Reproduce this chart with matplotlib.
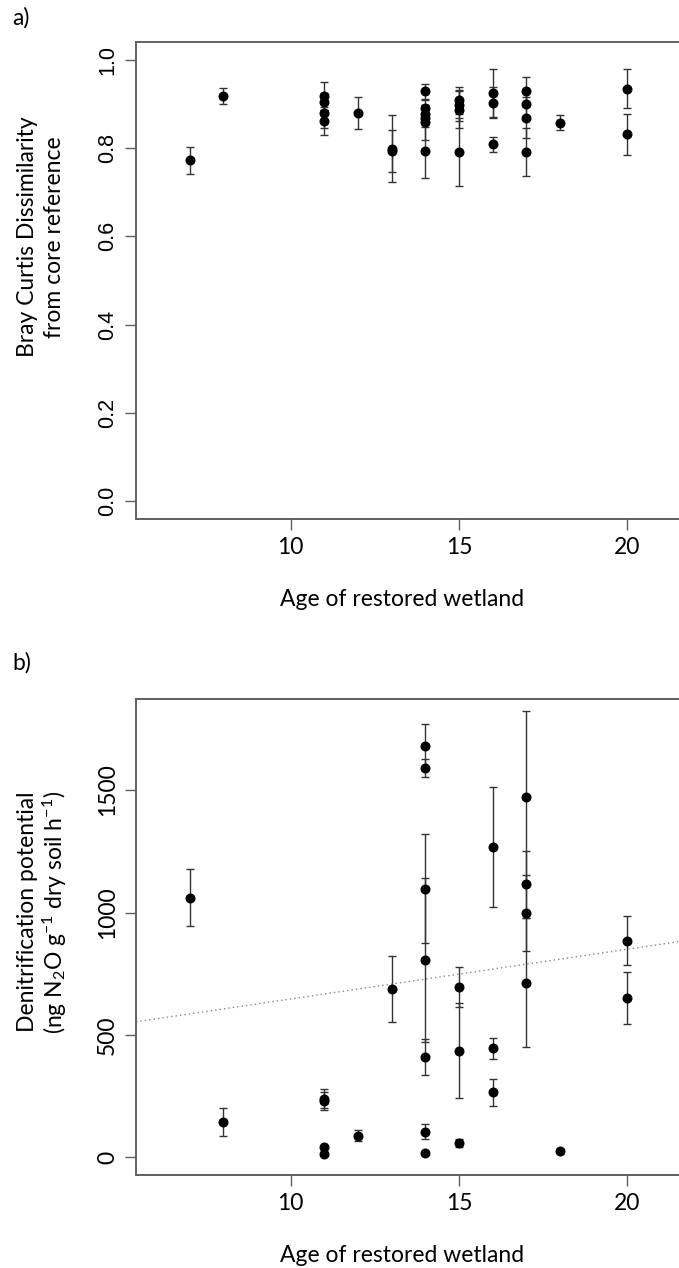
import matplotlib
matplotlib.use("Agg")
import matplotlib.pyplot as plt

# ---------------- data ----------------
# Panel a: Bray Curtis dissimilarity vs age
age_a = [7, 8, 11, 11, 11, 11, 12, 13, 13, 14, 14, 14, 14, 14, 14,
         15, 15, 15, 15, 16, 16, 16, 17, 17, 17, 17, 18, 20, 20]
bc_a = [0.772, 0.917, 0.917, 0.905, 0.880, 0.861, 0.880, 0.798, 0.793,
        0.928, 0.890, 0.878, 0.868, 0.858, 0.793,
        0.908, 0.897, 0.887, 0.791, 0.924, 0.902, 0.808,
        0.928, 0.900, 0.869, 0.791, 0.857, 0.934, 0.831]
err_a = [0.030, 0.018, 0.032, 0.020, 0.035, 0.031, 0.036, 0.076, 0.047,
         0.016, 0.018, 0.020, 0.020, 0.040, 0.060,
         0.030, 0.035, 0.042, 0.076, 0.054, 0.035, 0.018,
         0.033, 0.030, 0.047, 0.054, 0.017, 0.044, 0.047]

# Panel b: denitrification potential vs age
age_b = [7, 8, 11, 11, 11, 11, 12, 13, 14, 14, 14, 14, 14, 14, 14,
         15, 15, 15, 16, 16, 16, 17, 17, 17, 17, 18, 20, 20]
dp_b = [1061, 144, 240, 230, 43, 12, 88, 688, 1679, 1592, 1098, 808, 410,
        105, 18, 696, 436, 60, 1268, 446, 265, 1472, 1115, 999, 714, 26,
        885, 650]
err_b = [115, 56, 40, 35, 0, 0, 22, 135, 89, 37, 224, 335, 73, 32, 0,
         83, 195, 17, 246, 43, 57, 349, 137, 155, 265, 0, 100, 107]

# fitted line (abline) in panel b
line_intercept = 444.0
line_slope = 20.3

xticks = [10, 15, 20]
yticks_a = [0.0, 0.2, 0.4, 0.6, 0.8, 1.0]
yticks_b = [0, 500, 1000, 1500]

# ---------------- style ----------------
W, H = 679, 1268
plt.rcParams['font.family'] = ['Lato', 'DejaVu Sans']
plt.rcParams['mathtext.fontset'] = 'custom'
plt.rcParams['mathtext.rm'] = 'Lato'
plt.rcParams['mathtext.it'] = 'Lato:italic'

fig = plt.figure(figsize=(W / 100, H / 100), dpi=100)

spine_col = '#606060'
fs = 16.5


def px_axes(left, top, right, bottom):
    return fig.add_axes([left / W, 1 - bottom / H, (right - left) / W, (bottom - top) / H])


def style(ax):
    for s in ax.spines.values():
        s.set_color(spine_col)
        s.set_linewidth(1.4)
    ax.tick_params(direction='out', length=8, width=1.0, color=spine_col,
                   labelsize=fs, pad=5)
    ax.set_xlim(5.4, 21.6)
    ax.set_xticks(xticks)


# Panel a
ax1 = px_axes(136, 42, 681, 519)
style(ax1)
ax1.errorbar(age_a, bc_a, yerr=err_a, fmt='o', color='black', ms=6.2,
             ecolor='#333333', elinewidth=1.0, capsize=2.6, capthick=1.0)
ax1.set_ylim(-0.04, 1.04)
ax1.set_yticks(yticks_a)
ax1.set_yticklabels([f"{v:.1f}" for v in yticks_a])
plt.setp(ax1.get_yticklabels(), rotation=90, va='center',
         family=['Liberation Sans', 'DejaVu Sans'], fontsize=15.5)

# Panel b
ax2 = px_axes(136, 699, 681, 1175)
style(ax2)
ax2.errorbar(age_b, dp_b, yerr=err_b, fmt='o', color='black', ms=6.2,
             ecolor='#333333', elinewidth=1.0, capsize=2.6, capthick=1.0)
ax2.axline((0, line_intercept), slope=line_slope, color='#888888',
           lw=1.0, ls=(0, (1, 2.2)))
ax2.set_ylim(-72, 1872)
ax2.set_yticks(yticks_b)
ax2.set_yticklabels([str(v) for v in yticks_b])
plt.setp(ax2.get_yticklabels(), rotation=90, va='center')

# text labels
def ftext(x, y, s, **kw):
    fig.text(x / W, 1 - y / H, s, **kw)

ftext(12, 18, 'a)', ha='left', va='center', fontsize=fs)
ftext(12, 663, 'b)', ha='left', va='center', fontsize=fs)

ftext(402, 600, 'Age of restored wetland', ha='center', va='center', fontsize=fs)
ftext(402, 1255, 'Age of restored wetland', ha='center', va='center', fontsize=fs)

ftext(28, 237, 'Bray Curtis Dissimilarity', ha='center', va='center',
      rotation=90, fontsize=fs)
ftext(55, 237, 'from core reference', ha='center', va='center',
      rotation=90, fontsize=fs)

ftext(28, 912, 'Denitrification potential', ha='center', va='center',
      rotation=90, fontsize=fs)
ftext(55, 912, r'(ng N$_2$O g$^{-1}$ dry soil h$^{-1}$)', ha='center',
      va='center', rotation=90, fontsize=fs)

fig.savefig('out.png', dpi=100)
